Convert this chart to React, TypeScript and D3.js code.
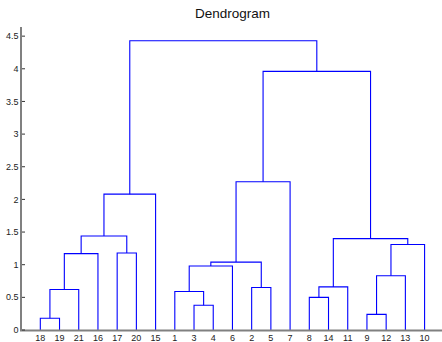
import { useMemo } from 'react';
import * as d3 from 'd3';

// linkage rows: [left id, right id, height]; leaves are 1..21, merges get ids 22..
const links: [number, number, number][] = [
  [18, 19, 0.18],
  [9, 12, 0.24],
  [3, 4, 0.38],
  [8, 14, 0.5],
  [1, 24, 0.59],
  [22, 21, 0.62],
  [2, 5, 0.65],
  [25, 11, 0.66],
  [23, 13, 0.83],
  [26, 6, 0.98],
  [31, 28, 1.04],
  [27, 16, 1.17],
  [17, 20, 1.18],
  [30, 10, 1.31],
  [29, 35, 1.4],
  [33, 34, 1.44],
  [37, 15, 2.08],
  [32, 7, 2.27],
  [39, 36, 3.96],
  [38, 40, 4.43],
];

const yTicks = [0, 0.5, 1, 1.5, 2, 2.5, 3, 3.5, 4, 4.5];
const nLeaves = 21;

const W = 442;
const H = 342;

function App() {
  const x = d3.scaleLinear().domain([0, nLeaves + 1]).range([21.1, 443.8]);
  const y = d3.scaleLinear().domain([0, 4.64]).range([330, 27]);

  const { order, paths } = useMemo(() => {
    // walk the tree to get leaf order
    const order: number[] = [];
    const walk = (id: number) => {
      if (id <= nLeaves) {
        order.push(id);
        return;
      }
      const [a, b] = links[id - nLeaves - 1];
      walk(a);
      walk(b);
    };
    walk(nLeaves + links.length);

    const pos = new Map<number, number>();
    order.forEach((id, i) => pos.set(id, i + 1));
    const hgt = new Map<number, number>();

    const paths: string[] = [];
    links.forEach(([a, b, h], i) => {
      const id = nLeaves + i + 1;
      const xa = pos.get(a)!;
      const xb = pos.get(b)!;
      const ha = hgt.get(a) ?? 0;
      const hb = hgt.get(b) ?? 0;
      pos.set(id, (xa + xb) / 2);
      hgt.set(id, h);
      const p = d3.path();
      p.moveTo(x(xa), y(ha));
      p.lineTo(x(xa), y(h));
      p.lineTo(x(xb), y(h));
      p.lineTo(x(xb), y(hb));
      paths.push(p.toString());
    });
    return { order, paths };
  }, []);

  const font = '"Liberation Sans", Arial, Helvetica, sans-serif';

  return (
    <svg
      width={W}
      height={H}
      style={{ position: 'absolute', left: 0, top: 0, background: '#fff' }}
      fontFamily={font}
    >
      <text x={232.5} y={18} textAnchor="middle" fontSize={13.5} fill="#111">
        Dendrogram
      </text>

      {paths.map((d, i) => (
        <path key={i} d={d} fill="none" stroke="#0000ff" strokeWidth={1.1} />
      ))}

      {/* axes */}
      <line x1={21} x2={21} y1={27} y2={331} stroke="#808080" strokeWidth={2} />
      <line x1={20} x2={W} y1={330.5} y2={330.5} stroke="#808080" strokeWidth={2} />

      {yTicks.map((t) => (
        <g key={t}>
          <line x1={22} x2={25} y1={y(t)} y2={y(t)} stroke="#333" strokeWidth={1} />
          <text x={18.5} y={y(t)} dy="0.35em" textAnchor="end" fontSize={9} fill="#222">
            {t}
          </text>
        </g>
      ))}

      {order.map((id, i) => (
        <text key={id} x={x(i + 1)} y={341} textAnchor="middle" fontSize={9} fill="#222">
          {id}
        </text>
      ))}
    </svg>
  );
}

export default App;
